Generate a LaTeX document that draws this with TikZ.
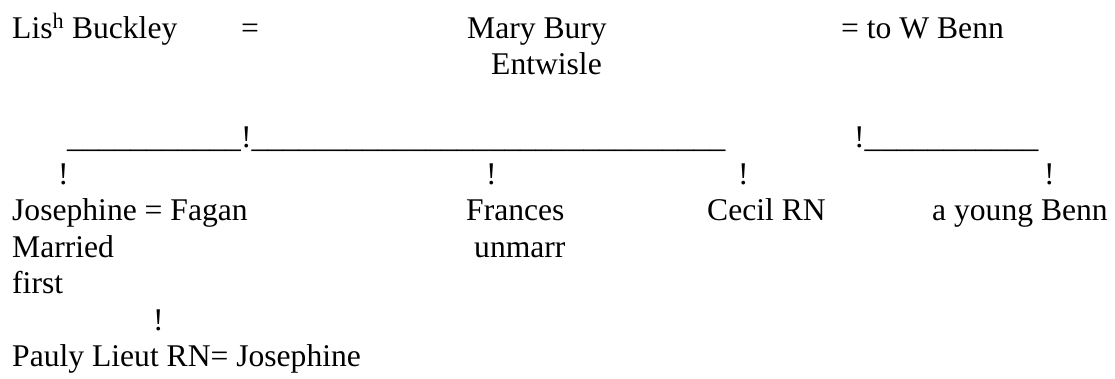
\documentclass[tikz,border=0pt]{standalone}
\usepackage{fontspec}
\setmainfont{Liberation Serif}
\newcommand{\unders}[1]{\foreach \k in {1,...,#1}{\_}}
\tikzset{famtext/.style={anchor=base west, inner sep=0pt, font=\fontsize{31.6}{36.5}\selectfont}}

\begin{document}
\begin{tikzpicture}[x=1pt, y=-1pt, every node/.style={famtext}]
  \useasboundingbox (0,0) rectangle (1115,378);

  % Parents
  \node (Buck) at (12, 38) {Lis\textsuperscript{h} Buckley};
  \node (eq1) at (241, 38) {=};
  \node (Mary) at (467, 38) {Mary Bury};
  \node (Benn) at (841, 38) {= to W Benn};
  \node (Entw) at (491, 74.5) {Entwisle};

  % Lines of descent
  \node (line1) at (67, 147.5) {\unders{11}!\unders{30}};
  \node (line2) at (854, 147.5) {!\unders{11}};
  \node (bJo) at (58, 184) {!};
  \node (bFr) at (486, 184) {!};
  \node (bCe) at (738, 184) {!};
  \node (bYb) at (1044, 184) {!};

  % Children
  \node (Jos) at (12, 220.5) {Josephine = Fagan};
  \node (Fran) at (466, 220.5) {Frances};
  \node (Cecil) at (707, 220.5) {Cecil RN};
  \node (Young) at (932, 220.5) {a young Benn};
  \node (Marr) at (12, 257) {Married};
  \node (Unm) at (474, 257) {unmarr};
  \node (First) at (12, 293.5) {first};

  % Grandchild
  \node (bPa) at (153, 330) {!};
  \node (Pauly) at (12, 366.5) {Pauly Lieut RN= Josephine};
\end{tikzpicture}
\end{document}
